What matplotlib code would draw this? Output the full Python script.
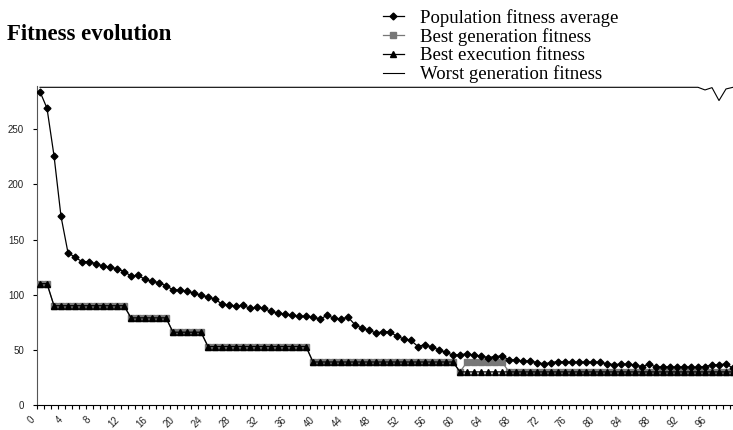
import numpy as np
import matplotlib
matplotlib.use("Agg")
import matplotlib.pyplot as plt
from matplotlib.transforms import ScaledTranslation

# generations 0..99
generations = np.arange(100)

population_avg = [
    284, 269, 226, 171, 138, 134, 130, 130, 128, 126,
    125, 123.5, 121, 117, 117.5, 114, 112, 111, 108, 104.5,
    104, 103, 101.5, 99.4, 98, 96, 91.5, 90.6, 89.4, 90.6,
    87.5, 88.5, 87.5, 84.8, 83.3, 82.4, 81.2, 80.3, 80.3, 79.7,
    77.9, 81.2, 78.8, 77.9, 79.7, 72.7, 69.7, 67.9, 65.2, 66.4,
    66.4, 62.1, 60, 58.5, 53, 54.8, 52.4, 50, 47.6, 45.2,
    45.5, 46.4, 45.2, 44.5, 43, 43.9, 44.5, 40.9, 40.9, 39.7,
    40, 38.5, 37.3, 38.5, 39.4, 38.8, 38.8, 38.8, 38.8, 38.8,
    38.8, 37.3, 36.7, 37, 37, 36.4, 34.8, 37, 34.5, 34.5,
    34.5, 34.2, 34.5, 34.2, 34.2, 34.8, 36.4, 36.4, 37.3, 33.3,
]

best_generation = ([110] * 2 + [90] * 11 + [79] * 6 + [66] * 5 + [53] * 15
                   + [39] * 21 + [30] + [39] * 6 + [30] * 33)

best_execution = ([110] * 2 + [90] * 11 + [79] * 6 + [66] * 5 + [53] * 15
                  + [39] * 21 + [30] * 40)

worst_generation = [288] * 95 + [285.6, 287.7, 276, 286.5, 288]

tick_labels = [str(v) for v in range(0, 100, 4)]

fig = plt.figure(figsize=(7.33, 4.30), dpi=100)
ax = fig.add_axes([36.5 / 733, 25 / 430, 700 / 733, 318.8 / 430])

ax.plot(generations, worst_generation, color="black", linewidth=0.8,
        label="Worst generation fitness", zorder=2)
ax.plot(generations, population_avg, color="black", linewidth=0.9,
        marker="D", markersize=3.5, label="Population fitness average", zorder=4)
ax.plot(generations, best_generation, color="#777777", linewidth=0.9,
        marker="s", markersize=4.0, label="Best generation fitness", zorder=3)
ax.plot(generations, best_execution, color="black", linewidth=0.9,
        marker="^", markersize=4.0, label="Best execution fitness", zorder=3.5)

ax.set_xlim(-0.5, 99.5)
ax.set_ylim(0, 289)

for side in ["top", "right"]:
    ax.spines[side].set_visible(False)
ax.spines["left"].set_color("#555555")
ax.spines["bottom"].set_color("black")

ax.set_yticks([0, 50, 100, 150, 200, 250])
ax.tick_params(axis="y", length=3, width=0.8, pad=6, labelsize=7,
               colors="black")
ax.tick_params(axis="y", labelcolor="#222222")

ax.set_xticks(range(0, 100, 4))
ax.set_xticklabels(tick_labels)
ax.set_xticks(np.arange(-0.5, 100, 1), minor=True)
ax.tick_params(axis="x", which="major", length=0, pad=0, labelsize=7,
               labelcolor="#222222")
ax.tick_params(axis="x", which="minor", length=3, width=0.8)
offset = ScaledTranslation(-0.10, -0.10, fig.dpi_scale_trans)
for lab in ax.get_xticklabels():
    lab.set_rotation(45)
    lab.set_ha("right")
    lab.set_va("top")
    lab.set_rotation_mode("anchor")
    lab.set_transform(lab.get_transform() + offset)

for lab in ax.get_xticklabels() + ax.get_yticklabels():
    lab.set_family(["Liberation Sans", "DejaVu Sans"])

fig.text(7.3 / 733, 1 - 40 / 430, "Fitness evolution",
         family="Liberation Serif", fontweight="bold", fontsize=16.5,
         va="baseline", ha="left")

handles, labels = ax.get_legend_handles_labels()
order = [1, 2, 3, 0]
fig.legend([handles[i] for i in order], [labels[i] for i in order],
           loc="upper left", bbox_to_anchor=(383 / 733, 1 - 9 / 430),
           frameon=False, borderpad=0, borderaxespad=0,
           handlelength=1.1, handletextpad=0.85, labelspacing=0.06,
           prop={"family": "Liberation Serif", "size": 13.5})

fig.savefig("out.png", dpi=100)
